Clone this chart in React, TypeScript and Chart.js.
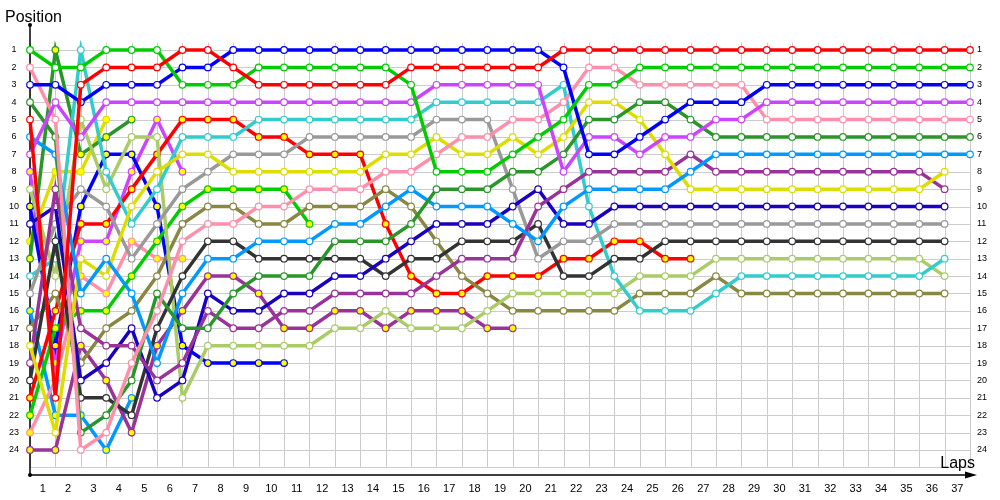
import React, { useEffect, useRef } from "react";
import { Chart, registerables } from "chart.js";

Chart.register(...registerables);

// Lap numbers (0 = start grid) and tick labels
const lapValues = [0, 1, 2, 3, 4, 5, 6, 7, 8, 9, 10, 11, 12, 13, 14, 15, 16, 17, 18, 19, 20, 21, 22, 23, 24, 25, 26, 27, 28, 29, 30, 31, 32, 33, 34, 35, 36, 37];
const positionTicks = [1, 2, 3, 4, 5, 6, 7, 8, 9, 10, 11, 12, 13, 14, 15, 16, 17, 18, 19, 20, 21, 22, 23, 24];

// Positions per lap (index = lap, starting at lap 0)
const red1 = [5, 21, 3, 2, 2, 2, 1, 1, 2, 3, 3, 3, 3, 3, 3, 2, 2, 2, 2, 2, 2, 1, 1, 1, 1, 1, 1, 1, 1, 1, 1, 1, 1, 1, 1, 1, 1, 1];
const green1 = [1, 2, 2, 1, 1, 1, 3, 3, 3, 2, 2, 2, 2, 2, 2, 3, 8, 8, 8, 7, 6, 5, 3, 3, 2, 2, 2, 2, 2, 2, 2, 2, 2, 2, 2, 2, 2, 2];
const blue1 = [3, 3, 4, 3, 3, 3, 2, 2, 1, 1, 1, 1, 1, 1, 1, 1, 1, 1, 1, 1, 1, 2, 7, 7, 6, 5, 4, 4, 4, 3, 3, 3, 3, 3, 3, 3, 3, 3];
const violet1 = [7, 4, 6, 4, 4, 4, 4, 4, 4, 4, 4, 4, 4, 4, 4, 4, 3, 3, 3, 3, 3, 8, 6, 6, 7, 6, 6, 5, 5, 4, 4, 4, 4, 4, 4, 4, 4, 4];
const pink1 = [2, 5, 24, 23, 19, 16, 12, 11, 11, 10, 10, 9, 9, 9, 8, 8, 7, 6, 6, 5, 5, 4, 2, 2, 3, 3, 3, 3, 3, 5, 5, 5, 5, 5, 5, 5, 5, 5];
const dkgreen1 = [4, 6, 23, 22, 20, 15, 17, 17, 15, 14, 14, 14, 12, 12, 12, 11, 9, 9, 9, 8, 8, 7, 5, 5, 4, 4, 5, 6, 6, 6, 6, 6, 6, 6, 6, 6, 6, 6];
const ltblue1 = [6, 7, 15, 13, 15, 19, 15, 13, 13, 12, 12, 12, 11, 11, 10, 9, 10, 10, 10, 11, 12, 10, 9, 9, 9, 9, 8, 7, 7, 7, 7, 7, 7, 7, 7, 7, 7, 7];
const yellow1 = [18, 23, 13, 14, 10, 8, 7, 7, 8, 8, 8, 8, 8, 8, 7, 7, 6, 7, 7, 6, 7, 6, 4, 4, 5, 7, 9, 9, 9, 9, 9, 9, 9, 9, 9, 9, 8];
const dkpurple1 = [19, 9, 17, 18, 18, 20, 19, 16, 17, 17, 16, 16, 15, 15, 15, 15, 14, 13, 13, 13, 10, 9, 8, 8, 8, 8, 7, 8, 8, 8, 8, 8, 8, 8, 8, 8, 9];
const navy1 = [11, 10, 20, 19, 17, 21, 20, 15, 16, 16, 15, 15, 14, 14, 13, 12, 11, 11, 11, 10, 9, 11, 11, 10, 10, 10, 10, 10, 10, 10, 10, 10, 10, 10, 10, 10, 10];
const gray1 = [15, 11, 9, 10, 13, 11, 9, 8, 7, 7, 7, 6, 6, 6, 6, 6, 5, 5, 5, 9, 13, 12, 12, 11, 11, 11, 11, 11, 11, 11, 11, 11, 11, 11, 11, 11, 11];
const black1 = [20, 12, 21, 21, 22, 17, 14, 12, 12, 13, 13, 13, 13, 13, 14, 13, 13, 12, 12, 12, 11, 14, 14, 13, 13, 12, 12, 12, 12, 12, 12, 12, 12, 12, 12, 12, 12];
const cyan1 = [14, 13, 1, 8, 11, 9, 6, 6, 6, 5, 5, 5, 5, 5, 5, 5, 4, 4, 4, 4, 4, 3, 10, 14, 16, 16, 16, 15, 14, 14, 14, 14, 14, 14, 14, 14, 13];
const ltgreen1 = [9, 14, 5, 9, 6, 6, 21, 18, 18, 18, 18, 18, 17, 17, 16, 17, 17, 17, 16, 15, 15, 15, 15, 15, 14, 14, 14, 13, 13, 13, 13, 13, 13, 13, 13, 13, 14];
const olive1 = [17, 15, 19, 17, 16, 14, 11, 10, 10, 11, 11, 10, 10, 10, 9, 10, 12, 14, 15, 16, 16, 16, 16, 16, 15, 15, 15, 14, 15, 15, 15, 15, 15, 15, 15, 15, 15];
const red2 = [21, 16, 11, 11, 9, 7, 5, 5, 5, 6, 6, 7, 7, 7, 11, 14, 15, 15, 14, 14, 14, 13, 13, 12, 12, 13, 13];
const green2 = [22, 17, 16, 16, 14, 12, 10, 9, 9, 9, 9, 11];
const blue2 = [10, 18, 10, 7, 7, 10, 18, 19, 19, 19, 19];
const violet2 = [8, 19, 12, 12, 8, 5, 8];
const pink2 = [23, 20, 14, 15, 12, 13, 13];
const dkpurple2 = [24, 24, 18, 20, 23, 18, 16, 14, 14, 15, 17, 17, 16, 16, 17, 16, 16, 16, 17, 17];
const dkgreen2 = [13, 1, 7, 6, 5];
const ltblue2 = [16, 22, 22, 24, 21];
const yellow2 = [12, 8, 8, 5];

const WHITE = "#ffffff";
const YELLOW = "#ffff00";

const drivers: { data: number[]; color: string; fill: string }[] = [
  { data: red1, color: "#ff0000", fill: WHITE },
  { data: green1, color: "#00cc00", fill: WHITE },
  { data: blue1, color: "#0000ff", fill: WHITE },
  { data: violet1, color: "#cc44ff", fill: WHITE },
  { data: pink1, color: "#ff8fab", fill: WHITE },
  { data: dkgreen1, color: "#2a962a", fill: WHITE },
  { data: ltblue1, color: "#0099ff", fill: WHITE },
  { data: yellow1, color: "#dddd00", fill: WHITE },
  { data: dkpurple1, color: "#993399", fill: WHITE },
  { data: navy1, color: "#1a00c0", fill: WHITE },
  { data: gray1, color: "#999999", fill: WHITE },
  { data: black1, color: "#333333", fill: WHITE },
  { data: cyan1, color: "#33cccc", fill: WHITE },
  { data: ltgreen1, color: "#aacc66", fill: WHITE },
  { data: olive1, color: "#888844", fill: WHITE },
  { data: red2, color: "#ff0000", fill: YELLOW },
  { data: green2, color: "#00cc00", fill: YELLOW },
  { data: blue2, color: "#0000ff", fill: YELLOW },
  { data: violet2, color: "#cc44ff", fill: YELLOW },
  { data: pink2, color: "#ff8fab", fill: YELLOW },
  { data: dkpurple2, color: "#993399", fill: YELLOW },
  { data: dkgreen2, color: "#2a962a", fill: YELLOW },
  { data: ltblue2, color: "#0099ff", fill: YELLOW },
  { data: yellow2, color: "#dddd00", fill: YELLOW },
];

const FONT = '"Liberation Sans", Arial, sans-serif';

const decorPlugin = {
  id: "decor",
  beforeDatasetsDraw(chart: any) {
    const { ctx, scales, chartArea } = chart;
    const xs = scales.x;
    const ys = scales.y;
    const firstLap = lapValues[0];
    const lastLap = lapValues[lapValues.length - 1];
    ctx.save();
    // grid
    ctx.strokeStyle = "#cccccc";
    ctx.lineWidth = 1;
    const rows = [...positionTicks, positionTicks.length + 1];
    for (const p of rows) {
      const py = Math.round(ys.getPixelForValue(p)) + 0.5;
      ctx.beginPath();
      ctx.moveTo(xs.getPixelForValue(firstLap), py);
      ctx.lineTo(xs.getPixelForValue(lastLap), py);
      ctx.stroke();
    }
    for (const l of lapValues) {
      const px = Math.round(xs.getPixelForValue(l)) + 0.5;
      ctx.beginPath();
      ctx.moveTo(px, ys.getPixelForValue(0.58));
      ctx.lineTo(px, ys.getPixelForValue(positionTicks.length + 1));
      ctx.stroke();
    }
    // axes
    const x0 = xs.getPixelForValue(firstLap);
    const top = chartArea.top;
    const bottom = chartArea.bottom;
    const xEnd = chartArea.right + 7;
    ctx.strokeStyle = "#000000";
    ctx.lineWidth = 1.5;
    ctx.beginPath();
    ctx.moveTo(x0, top);
    ctx.lineTo(x0, bottom);
    ctx.lineTo(xEnd - 4, bottom);
    ctx.stroke();
    ctx.fillStyle = "#000000";
    ctx.beginPath();
    ctx.arc(x0, top, 2, 0, Math.PI * 2);
    ctx.fill();
    ctx.beginPath();
    ctx.arc(x0, bottom, 2, 0, Math.PI * 2);
    ctx.fill();
    ctx.beginPath();
    ctx.moveTo(xEnd - 12, bottom - 3.5);
    ctx.lineTo(xEnd, bottom);
    ctx.lineTo(xEnd - 12, bottom + 3.5);
    ctx.closePath();
    ctx.fill();
    // titles
    ctx.font = `16px ${FONT}`;
    ctx.textBaseline = "alphabetic";
    ctx.textAlign = "left";
    ctx.fillText("Position", 5, top - 3.5);
    ctx.textAlign = "right";
    ctx.fillText("Laps", xEnd - 2, bottom - 7);
    ctx.restore();
  },
};

export default function App() {
  const canvasRef = useRef<HTMLCanvasElement | null>(null);

  useEffect(() => {
    if (!canvasRef.current) return;
    const datasets = drivers.map((d) => ({
      data: d.data.map((p, i) => ({ x: lapValues[i], y: p })),
      borderColor: d.color,
      backgroundColor: d.color,
      borderWidth: 3.5,
      pointRadius: 3.3,
      pointHoverRadius: 3.3,
      pointBorderWidth: 1.2,
      pointBorderColor: d.color,
      pointBackgroundColor: d.fill,
      tension: 0,
      clip: false as any,
      yAxisID: "y",
    }));

    const yMin = positionTicks[0] - 1.4375;
    const yMax = positionTicks[positionTicks.length - 1] + 1.4375;

    const chart = new Chart(canvasRef.current, {
      type: "line",
      data: { datasets },
      plugins: [decorPlugin],
      options: {
        animation: false,
        responsive: false,
        events: [],
        layout: { padding: { top: 25, left: 0, right: 0, bottom: 0 } },
        plugins: { legend: { display: false }, tooltip: { enabled: false } },
        scales: {
          x: {
            type: "linear",
            position: "bottom",
            min: lapValues[0],
            max: lapValues[lapValues.length - 1],
            grid: { display: false, drawTicks: false },
            border: { display: false },
            afterBuildTicks: (s: any) => {
              s.ticks = lapValues.map((v) => ({ value: v }));
            },
            afterFit: (s: any) => {
              s.height = 25;
            },
            ticks: {
              autoSkip: false,
              maxRotation: 0,
              padding: 7,
              labelOffset: -12.7,
              color: "#000000",
              font: { family: FONT, size: 11 },
              callback: (v: any) => (Number(v) === 0 ? "" : String(v)),
            },
          },
          y: {
            type: "linear",
            position: "left",
            reverse: true,
            min: yMin,
            max: yMax,
            grid: { display: false, drawTicks: false },
            border: { display: false },
            afterBuildTicks: (s: any) => {
              s.ticks = positionTicks.map((v) => ({ value: v }));
            },
            afterFit: (s: any) => {
              s.width = 30;
            },
            ticks: {
              crossAlign: "center",
              padding: 11,
              color: "#000000",
              font: { family: FONT, size: 9 },
              callback: (v: any) => String(v),
            },
          },
          y2: {
            type: "linear",
            position: "right",
            reverse: true,
            min: yMin,
            max: yMax,
            grid: { display: false, drawTicks: false },
            border: { display: false },
            afterBuildTicks: (s: any) => {
              s.ticks = positionTicks.map((v) => ({ value: v }));
            },
            afterFit: (s: any) => {
              s.width = 30;
            },
            ticks: {
              crossAlign: "near",
              padding: 7,
              color: "#000000",
              font: { family: FONT, size: 9 },
              callback: (v: any) => String(v),
            },
          },
        },
      },
    } as any);

    return () => {
      chart.destroy();
    };
  }, []);

  return (
    <div style={{ position: "fixed", left: 0, top: 0, width: 1000, height: 500, background: "#ffffff" }}>
      <canvas ref={canvasRef} width={1000} height={500} style={{ width: 1000, height: 500 }} />
    </div>
  );
}
